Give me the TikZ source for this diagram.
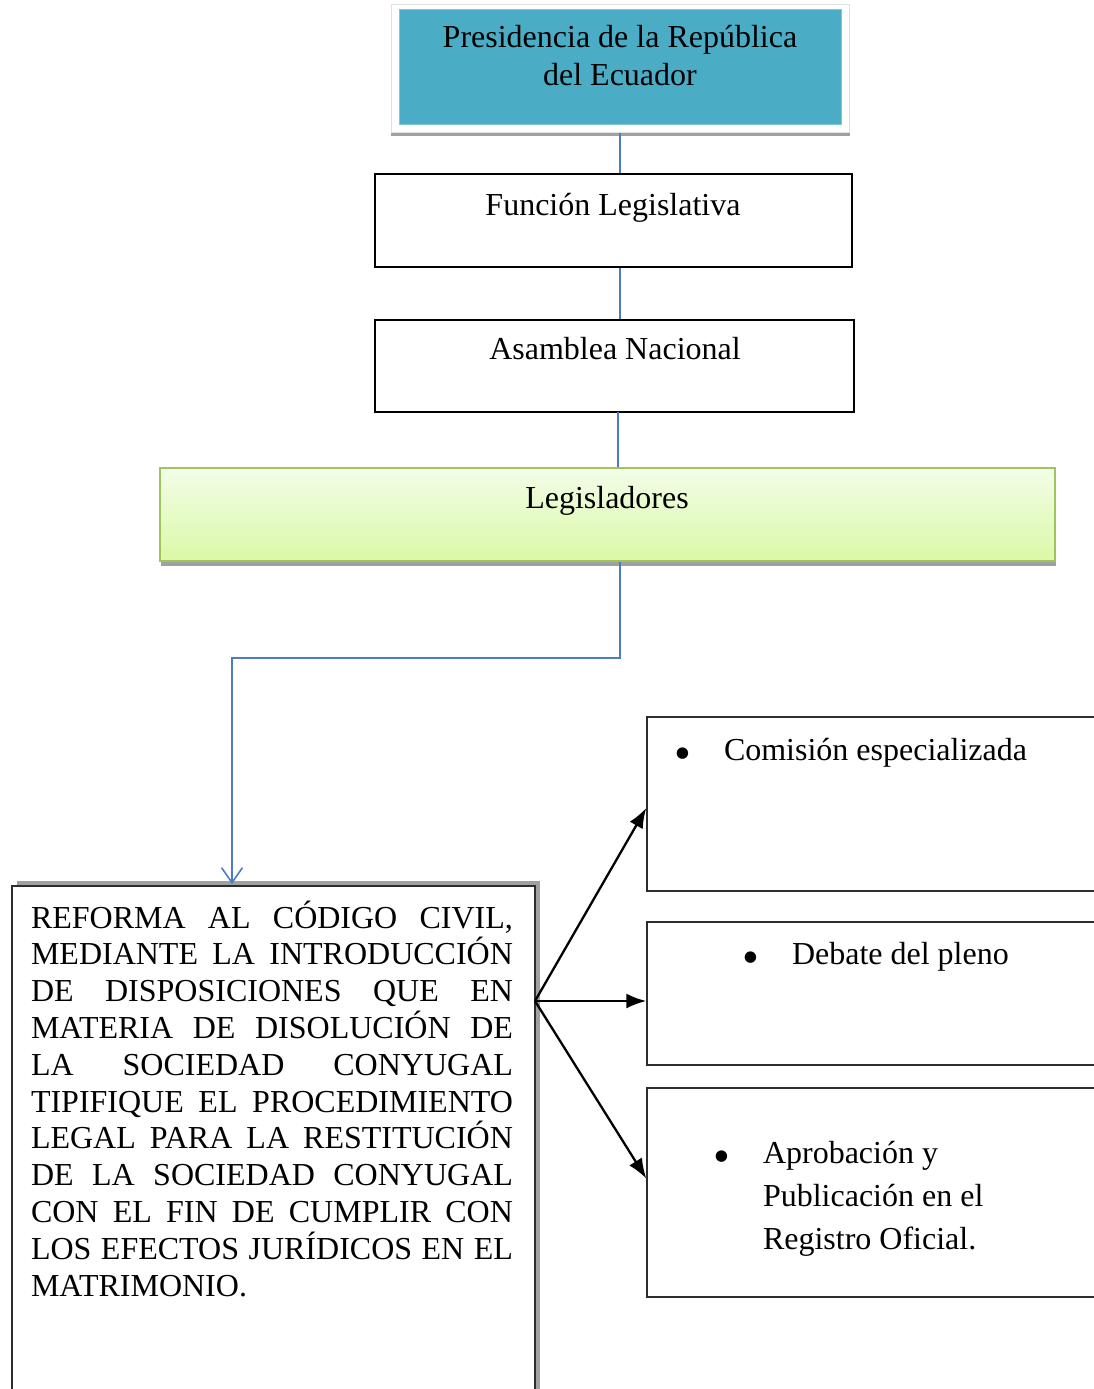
\documentclass[tikz,border=0pt]{standalone}
\usepackage{fontspec}
\usepackage{graphicx}
\setmainfont{Liberation Serif}
\usetikzlibrary{arrows.meta}
\definecolor{tealfill}{RGB}{75,172,198}
\definecolor{greentop}{RGB}{243,253,232}
\definecolor{greenbot}{RGB}{218,249,166}
\definecolor{greenline}{RGB}{160,196,92}
\definecolor{shadowgray}{RGB}{160,160,160}
\definecolor{framegray}{RGB}{225,225,225}
\definecolor{connblue}{RGB}{74,126,193}
\definecolor{boxline}{RGB}{45,45,45}
\newcommand{\bigbul}{\leavevmode\llap{\raisebox{-9pt}{\scalebox{1.5}{\textbullet}}\hspace{33pt}}}
\begin{document}
\begin{tikzpicture}[x=1pt,y=-1pt,
  txt/.style={font=\fontsize{32}{38}\selectfont, inner sep=0pt, outer sep=0pt},
  plainbox/.style={draw=black, line width=1.3pt, fill=white, inner sep=0pt},
  rbox/.style={draw=boxline, line width=1.4pt, fill=white, inner sep=0pt},
  conn/.style={draw=connblue, line width=1.6pt},
  flow/.style={draw=black, line width=2.3pt, -{Latex[length=20pt,width=15pt]}}
]
\useasboundingbox (0,0) rectangle (1094,1389);
\fill[white] (0,0) rectangle (1094,1389);

% Presidencia
\fill[shadowgray] (391,9) rectangle (850,136);
\node[draw=framegray, fill=white, line width=1pt, inner sep=0pt,
      minimum width=458, minimum height=127] (presframe) at (620,68.5) {};
\node[fill=tealfill, draw=tealfill!70!white, line width=0.8pt, inner sep=0pt,
      minimum width=442, minimum height=115] (pres) at (620,67) {};
\node[txt, anchor=base] (presT) at (620,48)
  {\parbox[t]{440pt}{\centering Presidencia de la República\\del Ecuador}};

% Funcion Legislativa
\node[plainbox, minimum width=477, minimum height=93] (func) at (613.5,220.5) {};
\node[txt, anchor=base] (funcT) at (613,215) {Función Legislativa};

% Asamblea Nacional
\node[plainbox, minimum width=479, minimum height=92] (asam) at (614.5,366) {};
\node[txt, anchor=base] (asamT) at (615,359) {Asamblea Nacional};

% Legisladores
\fill[shadowgray] (161,472) rectangle (1056,566);
\node[draw=greenline, line width=1.4pt, top color=greentop, bottom color=greenbot,
      inner sep=0pt, minimum width=895, minimum height=93] (leg) at (607.5,514.5) {};
\node[txt, anchor=base] (legT) at (607,508) {Legisladores};

% Reforma
\fill[shadowgray] (16.5,881) rectangle (540,1400);
\node[draw=boxline, line width=1.8pt, fill=white, inner sep=0pt,
      minimum width=523, minimum height=520] (reform) at (273.5,1146) {};
\node[txt, anchor=base west] (reformT) at (31,928)
  {\parbox[t]{482pt}{\fontsize{32}{36.8}\selectfont\tolerance=10000 \hyphenpenalty=10000 \emergencystretch=0pt
  REFORMA AL CÓDIGO CIVIL,\linebreak MEDIANTE LA INTRODUCCIÓN\linebreak DE DISPOSICIONES QUE EN\linebreak MATERIA DE DISOLUCIÓN DE\linebreak LA SOCIEDAD CONYUGAL\linebreak TIPIFIQUE EL PROCEDIMIENTO\linebreak LEGAL PARA LA RESTITUCIÓN\linebreak DE LA SOCIEDAD CONYUGAL\linebreak CON EL FIN DE CUMPLIR CON\linebreak LOS EFECTOS JURÍDICOS EN EL\linebreak MATRIMONIO.}};

% Right boxes
\node[rbox, minimum width=463, minimum height=174] (box1) at (878.5,804) {};
\node[txt, anchor=base west] (box1T) at (724,760) {\bigbul Comisión especializada};
\node[rbox, minimum width=463, minimum height=143] (box2) at (878.5,993.5) {};
\node[txt, anchor=base west] (box2T) at (792,964) {\bigbul Debate del pleno};
\node[rbox, minimum width=463, minimum height=209] (box3) at (878.5,1192.5) {};
\node[txt, anchor=base west] (box3T) at (763,1163)
  {\parbox[t]{320pt}{\fontsize{32}{43}\selectfont\raggedright\bigbul Aprobación y\\Publicación en el\\Registro Oficial.}};

% Blue connectors
\draw[conn] (presframe.south) -- (presframe.south |- func.north);
\draw[conn] (presframe.south |- func.south) -- (presframe.south |- asam.north);
\draw[conn] (618,412) coordinate (a1) -- (a1 |- leg.north);
\coordinate (bend) at (620,658);
\coordinate (drop) at (232,884);
\draw[conn, -{Straight Barb[length=15pt,width=21pt]}] (bend |- leg.south) -- (bend) -| (drop);

% Black arrows
\coordinate (fork) at (535,1001);
\draw[flow] (fork) -- ([yshift=-4pt]box1.west);
\draw[flow] (fork) -- (fork -| box2.west);
\draw[flow] (fork) -- ([yshift=14pt]box3.west);
\end{tikzpicture}
\end{document}
